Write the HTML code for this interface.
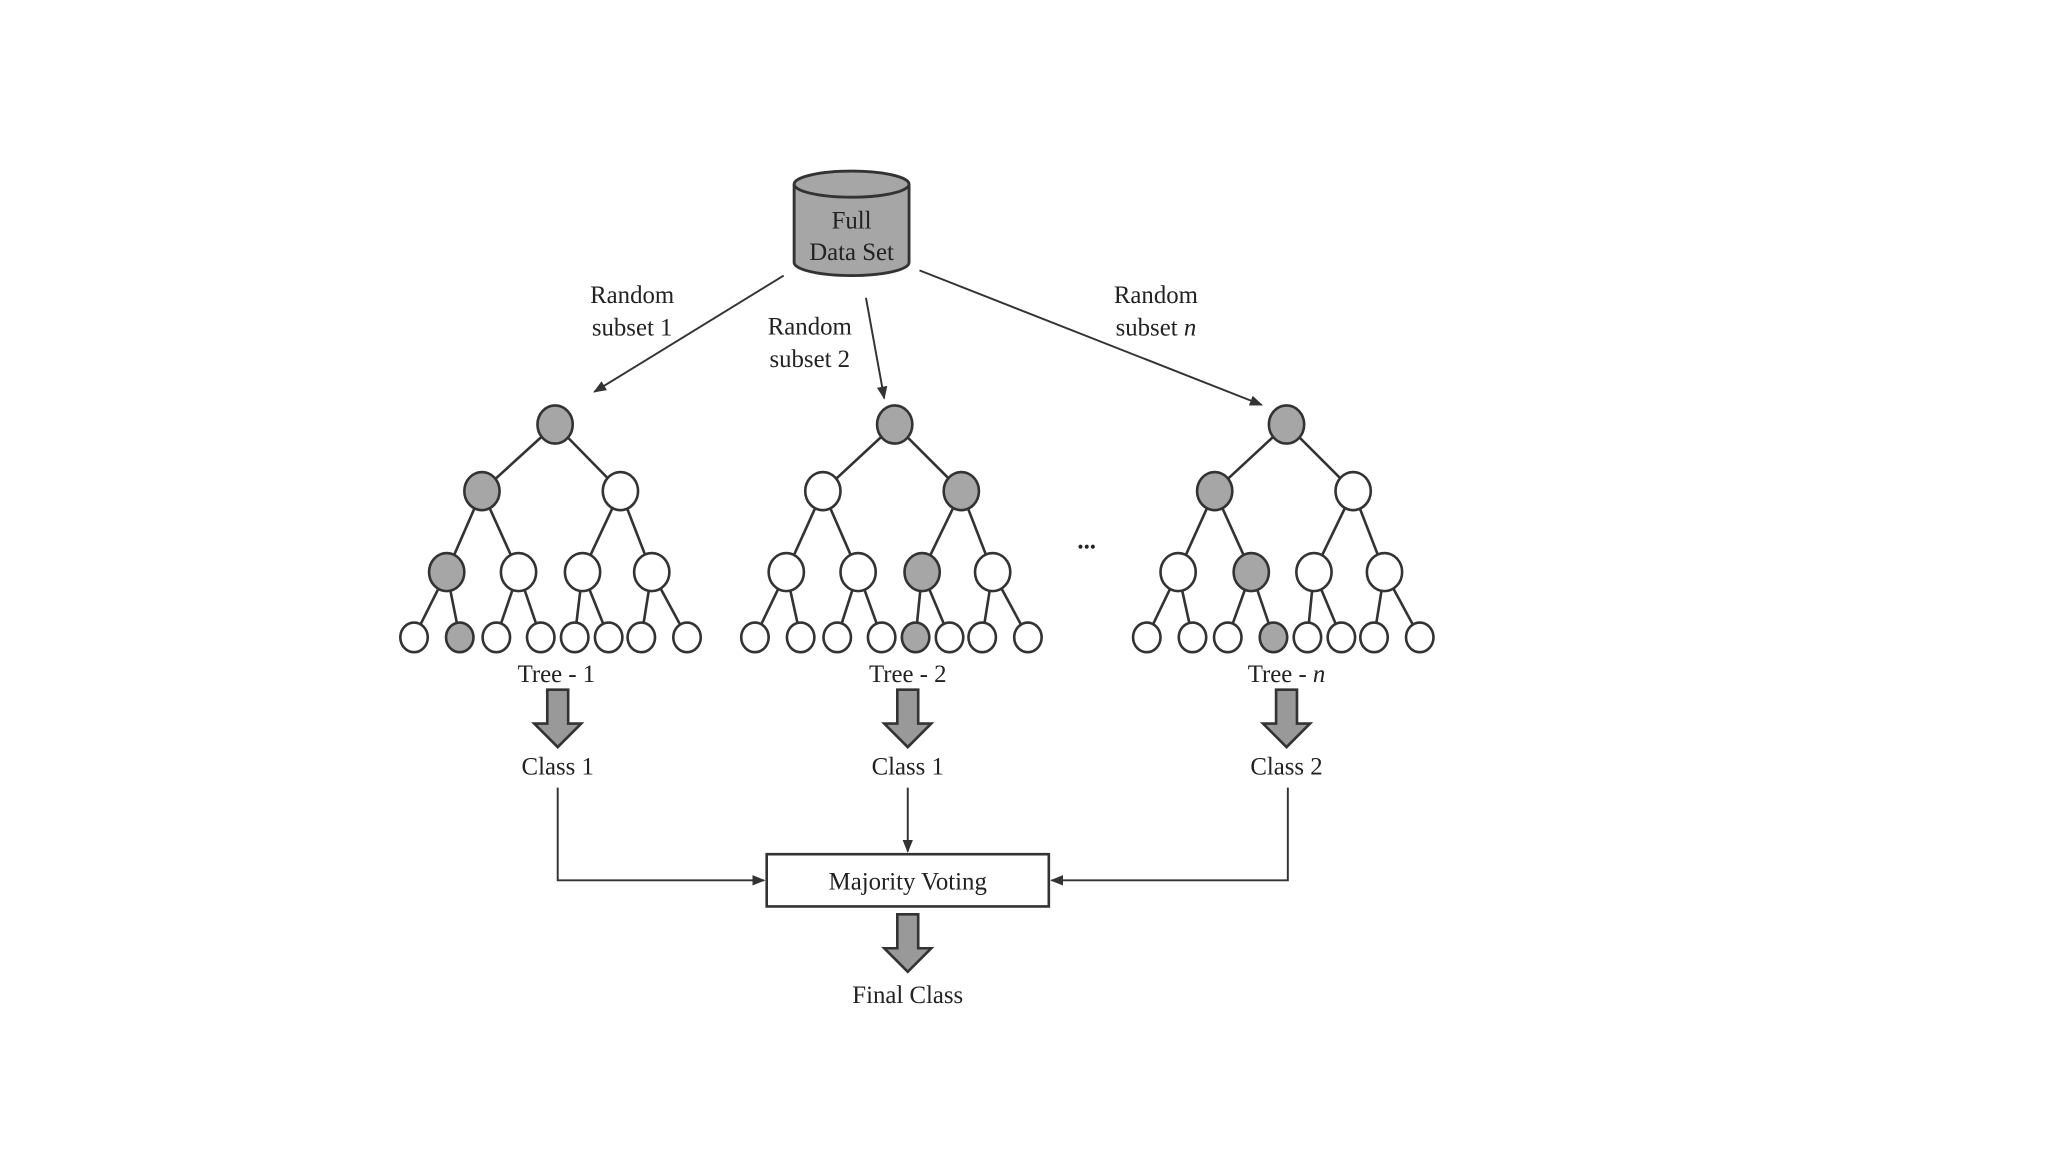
<!DOCTYPE html>
<html><head><meta charset="utf-8"><style>
html,body{margin:0;padding:0;background:#fff;}
svg{display:block;}
text{font-family:"Liberation Serif",serif;fill:#222;font-size:19px;text-anchor:middle;}
</style></head><body>
<svg width="2048" height="1152" viewBox="0 0 1568 882" xmlns="http://www.w3.org/2000/svg">
<defs>
<marker id="ah" markerWidth="10" markerHeight="8" refX="9" refY="4" orient="auto" markerUnits="userSpaceOnUse">
<path d="M0,0 L10,4 L0,8 Z" fill="#333"/></marker>
<g id="blk"><path d="M-8,0 H8 V26 H18 L0,44 L-18,26 H-8 Z" fill="#999" stroke="#333" stroke-width="2"/></g>
</defs>
<rect width="1568" height="882" fill="#fff"/>
<path d="M608,141 V201 A44,10 0 0 0 696,201 V141" fill="#a6a6a6" stroke="#333" stroke-width="2.2"/>
<ellipse cx="652" cy="141" rx="44" ry="10" fill="#a6a6a6" stroke="#333" stroke-width="2.2"/>
<text x="652" y="175">Full</text>
<text x="652" y="199">Data Set</text>
<g stroke="#333" stroke-width="1.5" marker-end="url(#ah)">
<line x1="600" y1="211" x2="455" y2="300"/>
<line x1="663" y1="228" x2="677" y2="305"/>
<line x1="704" y1="207" x2="966" y2="310"/>
</g>
<text x="484" y="232">Random</text><text x="484" y="257">subset 1</text>
<text x="620" y="256">Random</text><text x="620" y="281">subset 2</text>
<text x="885" y="232">Random</text><text x="885" y="257">subset <tspan font-style="italic">n</tspan></text>
<text x="832" y="420" font-size="22" font-weight="bold">...</text>
<g id="trees" stroke="#333" stroke-width="2"></g>
<text x="426" y="522">Tree - 1</text>
<text x="695" y="522">Tree - 2</text>
<text x="985" y="522">Tree - <tspan font-style="italic">n</tspan></text>
<use href="#blk" x="427" y="528"/>
<use href="#blk" x="695" y="528"/>
<use href="#blk" x="985" y="528"/>
<text x="427" y="593">Class 1</text>
<text x="695" y="593">Class 1</text>
<text x="985" y="593">Class 2</text>
<g stroke="#333" stroke-width="1.5" fill="none">
<polyline points="427,603 427,674 585,674" marker-end="url(#ah)"/>
<line x1="695" y1="603" x2="695" y2="652" marker-end="url(#ah)"/>
<polyline points="986,603 986,674 805,674" marker-end="url(#ah)"/>
</g>
<rect x="587" y="654" width="216" height="40" fill="#fff" stroke="#333" stroke-width="2"/>
<text x="695" y="681">Majority Voting</text>
<use href="#blk" x="695" y="700"/>
<text x="695" y="768">Final Class</text>
</svg>
<script>
(function(){
var g=document.getElementById('trees');var NS='http://www.w3.org/2000/svg';
var T=[
{r:[425,325],l2:[369,475],l3:[342,397,446,499],lv:[317,352,380,414,440,466,491,526],s:[0,0,0,1]},
{r:[685,325],l2:[630,736],l3:[602,657,706,760],lv:[578,613,641,675,701,727,752,787],s:[0,1,2,4]},
{r:[985,325],l2:[930,1036],l3:[902,958,1006,1060],lv:[878,913,940,975,1001,1027,1052,1087],s:[0,0,1,3]}];
function ln(a,b,c,d){var e=document.createElementNS(NS,'line');e.setAttribute('x1',a);e.setAttribute('y1',b);e.setAttribute('x2',c);e.setAttribute('y2',d);g.appendChild(e);}
function ci(x,y,r,f){var e=document.createElementNS(NS,'ellipse');e.setAttribute('cx',x);e.setAttribute('cy',y);e.setAttribute('rx',r);e.setAttribute('ry',r*1.08);e.setAttribute('fill',f?'#a6a6a6':'#fff');g.appendChild(e);}
T.forEach(function(t){
var rx=t.r[0],ry=t.r[1];
t.l2.forEach(function(x){ln(rx,ry,x,376);});
t.l3.forEach(function(x,i){ln(t.l2[i>>1],376,x,438);});
t.lv.forEach(function(x,i){ln(t.l3[i>>1],438,x,488);});
ci(rx,ry,13.5,true);
t.l2.forEach(function(x,i){ci(x,376,13.5,i==t.s[1]);});
t.l3.forEach(function(x,i){ci(x,438,13.5,i==t.s[2]);});
t.lv.forEach(function(x,i){ci(x,488,10.5,i==t.s[3]);});
});
})();
</script>
</body></html>
